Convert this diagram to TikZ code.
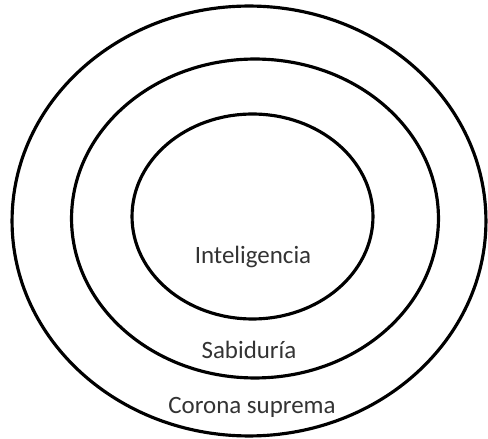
\documentclass[tikz,border=0pt]{standalone}
\usepackage{fontspec}
\setmainfont{Carlito}
\usetikzlibrary{positioning,shapes.geometric}

\begin{document}
\begin{tikzpicture}[
    x=0.02cm, y=-0.02cm,
    ring/.style={draw, ellipse, line width=1.8pt, inner sep=0pt},
    lbl/.style={font=\fontsize{14.2}{17}\selectfont, text=black!80, inner sep=0pt}
  ]
    \useasboundingbox (0,0) rectangle (488,439);
    \node[ring, minimum width=9.48cm, minimum height=8.6cm] (outer) at (249,221) {};
    \node[ring, minimum width=7.34cm, minimum height=6.38cm] (middle) at (255,218.5) {};
    \node[ring, minimum width=4.82cm, minimum height=4.1cm] (inner) at (252.5,216.5) {};

    \node[lbl] (intel) at (253,257) {Inteligencia};
    \node[lbl] (sabi) at (249,350) {Sabiduría};
    \node[lbl] (corona) at (252,407) {Corona suprema};
  \end{tikzpicture}
\end{document}
